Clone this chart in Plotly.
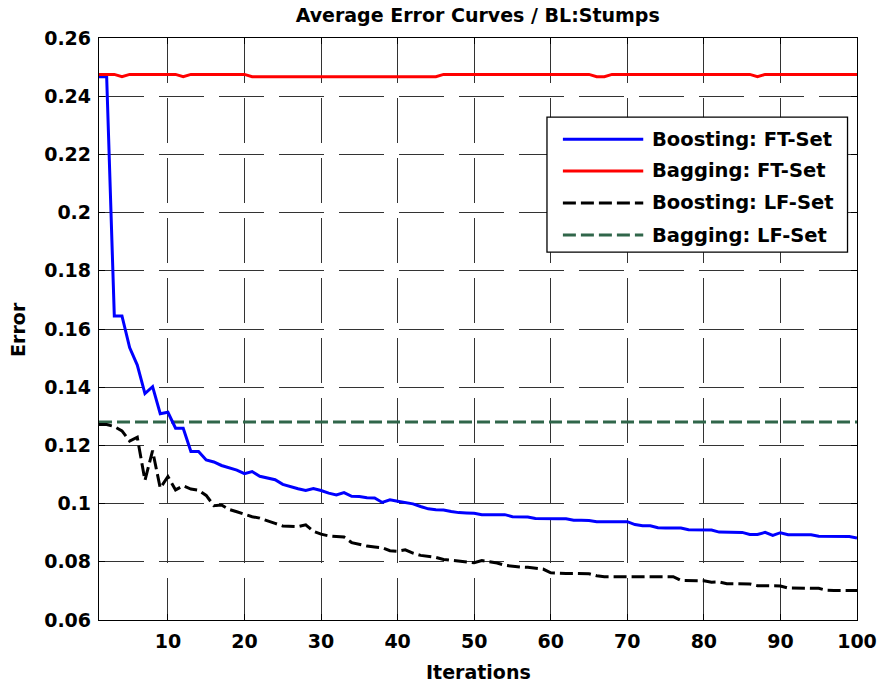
import plotly.graph_objects as go

# Iteration index and average error curves
iterations = list(range(1, 101))

boosting_ft = [
    0.2467, 0.2467, 0.1645, 0.1645, 0.1536, 0.1476, 0.1378, 0.1402, 0.1309, 0.1314,
    0.1259, 0.1259, 0.1179, 0.1179, 0.1150, 0.1143, 0.1131, 0.1122, 0.1115, 0.1103,
    0.1110, 0.1094, 0.1088, 0.1082, 0.1066, 0.1058, 0.1051, 0.1045, 0.1052, 0.1045,
    0.1036, 0.1030, 0.1038, 0.1025, 0.1024, 0.1020, 0.1019, 0.1004, 0.1013, 0.1008,
    0.1004, 0.0999, 0.0990, 0.0982, 0.0979, 0.0978, 0.0973, 0.0969, 0.0968, 0.0967,
    0.0962, 0.0962, 0.0962, 0.0962, 0.0955, 0.0955, 0.0954, 0.0949, 0.0948, 0.0948,
    0.0948, 0.0948, 0.0943, 0.0943, 0.0942, 0.0938, 0.0937, 0.0938, 0.0938, 0.0938,
    0.0928, 0.0924, 0.0924, 0.0917, 0.0916, 0.0916, 0.0916, 0.0910, 0.0910, 0.0910,
    0.0909, 0.0902, 0.0902, 0.0902, 0.0901, 0.0894, 0.0894, 0.0901, 0.0891, 0.0900,
    0.0893, 0.0893, 0.0893, 0.0893, 0.0888, 0.0888, 0.0888, 0.0888, 0.0887, 0.0882,
]

bagging_ft = [
    0.2475, 0.2475, 0.2475, 0.2467, 0.2475, 0.2475, 0.2475, 0.2475, 0.2475, 0.2475,
    0.2475, 0.2467, 0.2475, 0.2475, 0.2475, 0.2475, 0.2475, 0.2475, 0.2475, 0.2475,
    0.2467, 0.2467, 0.2467, 0.2467, 0.2467, 0.2467, 0.2467, 0.2467, 0.2467, 0.2467,
    0.2467, 0.2467, 0.2467, 0.2467, 0.2467, 0.2467, 0.2467, 0.2467, 0.2467, 0.2467,
    0.2467, 0.2467, 0.2467, 0.2467, 0.2467, 0.2475, 0.2475, 0.2475, 0.2475, 0.2475,
    0.2475, 0.2475, 0.2475, 0.2475, 0.2475, 0.2475, 0.2475, 0.2475, 0.2475, 0.2475,
    0.2475, 0.2475, 0.2475, 0.2475, 0.2475, 0.2467, 0.2467, 0.2475, 0.2475, 0.2475,
    0.2475, 0.2475, 0.2475, 0.2475, 0.2475, 0.2475, 0.2475, 0.2475, 0.2475, 0.2475,
    0.2475, 0.2475, 0.2475, 0.2475, 0.2475, 0.2475, 0.2467, 0.2475, 0.2475, 0.2475,
    0.2475, 0.2475, 0.2475, 0.2475, 0.2475, 0.2475, 0.2475, 0.2475, 0.2475, 0.2475,
]

boosting_lf = [
    0.1272, 0.1272, 0.1265, 0.1250, 0.1215, 0.1228, 0.1080, 0.1182, 0.1053, 0.1093,
    0.1047, 0.1061, 0.1050, 0.1046, 0.1028, 0.0993, 0.0995, 0.0980, 0.0972, 0.0964,
    0.0955, 0.0950, 0.0942, 0.0932, 0.0923, 0.0922, 0.0921, 0.0927, 0.0905, 0.0895,
    0.0889, 0.0887, 0.0885, 0.0866, 0.0860, 0.0854, 0.0851, 0.0848, 0.0838, 0.0836,
    0.0841, 0.0830, 0.0822, 0.0819, 0.0815, 0.0808, 0.0805, 0.0802, 0.0800, 0.0797,
    0.0804, 0.0799, 0.0796, 0.0788, 0.0784, 0.0782, 0.0781, 0.0778, 0.0775, 0.0762,
    0.0760, 0.0760, 0.0760, 0.0760, 0.0759, 0.0752, 0.0749, 0.0749, 0.0749, 0.0749,
    0.0749, 0.0749, 0.0749, 0.0749, 0.0749, 0.0749, 0.0736, 0.0735, 0.0735, 0.0735,
    0.0730, 0.0731, 0.0725, 0.0724, 0.0724, 0.0724, 0.0718, 0.0717, 0.0717, 0.0717,
    0.0710, 0.0709, 0.0709, 0.0709, 0.0709, 0.0702, 0.0701, 0.0701, 0.0701, 0.0701,
]

bagging_lf = [
    0.128, 0.128, 0.128, 0.128, 0.128, 0.128, 0.128, 0.128, 0.128, 0.128,
    0.128, 0.128, 0.128, 0.128, 0.128, 0.128, 0.128, 0.128, 0.128, 0.128,
    0.128, 0.128, 0.128, 0.128, 0.128, 0.128, 0.128, 0.128, 0.128, 0.128,
    0.128, 0.128, 0.128, 0.128, 0.128, 0.128, 0.128, 0.128, 0.128, 0.128,
    0.128, 0.128, 0.128, 0.128, 0.128, 0.128, 0.128, 0.128, 0.128, 0.128,
    0.128, 0.128, 0.128, 0.128, 0.128, 0.128, 0.128, 0.128, 0.128, 0.128,
    0.128, 0.128, 0.128, 0.128, 0.128, 0.128, 0.128, 0.128, 0.128, 0.128,
    0.128, 0.128, 0.128, 0.128, 0.128, 0.128, 0.128, 0.128, 0.128, 0.128,
    0.128, 0.128, 0.128, 0.128, 0.128, 0.128, 0.128, 0.128, 0.128, 0.128,
    0.128, 0.128, 0.128, 0.128, 0.128, 0.128, 0.128, 0.128, 0.128, 0.128,
]

series_names = ["Boosting: FT-Set", "Bagging: FT-Set", "Boosting: LF-Set", "Bagging: LF-Set"]
series_values = [boosting_ft, bagging_ft, boosting_lf, bagging_lf]
series_colors = ["#0000FF", "#FF0000", "#000000", "#30664A"]
series_dash = ["solid", "solid", "13px,5px", "13px,5px"]

x_ticks = [10, 20, 30, 40, 50, 60, 70, 80, 90, 100]
y_ticks = [0.06, 0.08, 0.10, 0.12, 0.14, 0.16, 0.18, 0.20, 0.22, 0.24, 0.26]
y_tick_text = ["0.06", "0.08", "0.1", "0.12", "0.14", "0.16", "0.18", "0.2", "0.22", "0.24", "0.26"]

FONT = "DejaVu Sans"
BOLD = dict(family=FONT, color="black", weight="bold")

fig = go.Figure()
# Draw order: dashed LF curves underneath, FT curves above
for idx in [3, 2, 0, 1]:
    fig.add_trace(go.Scatter(
        x=iterations, y=series_values[idx], mode="lines", name=series_names[idx],
        line=dict(color=series_colors[idx], width=3, dash=series_dash[idx]),
        showlegend=False,
    ))

axis_common = dict(
    showline=True, linecolor="black", linewidth=1.3, mirror="ticks",
    ticks="inside", ticklen=6, tickwidth=1, tickcolor="black",
    showgrid=True, gridcolor="#333333", gridwidth=1, griddash="45px,15px",
    zeroline=False,
    tickfont=dict(size=19, **BOLD),
)

fig.update_xaxes(range=[1, 100], tickvals=x_ticks, ticklabelstandoff=4, **axis_common)
fig.update_yaxes(range=[0.06, 0.26], tickvals=y_ticks, ticktext=y_tick_text,
                 ticklabelstandoff=3, **axis_common)

# Legend box with long line samples, placed in the upper-right of the axes
box_x0, box_x1, box_y0, box_y1 = 0.591, 0.9875, 0.632, 0.864
sample_x0, sample_x1, text_x = 0.612, 0.718, 0.727
entry_y = [0.826, 0.7715, 0.7165, 0.6615]

shapes = [dict(type="rect", xref="paper", yref="paper",
               x0=box_x0, x1=box_x1, y0=box_y0, y1=box_y1,
               line=dict(color="black", width=1.3), fillcolor="white", layer="above")]
annotations = []
for name, color, dash, ey in zip(series_names, series_colors, series_dash, entry_y):
    shapes.append(dict(type="line", xref="paper", yref="paper",
                       x0=sample_x0, x1=sample_x1, y0=ey, y1=ey,
                       line=dict(color=color, width=3, dash=dash), layer="above"))
    annotations.append(dict(xref="paper", yref="paper", x=text_x, y=ey,
                            xanchor="left", yanchor="middle", showarrow=False,
                            text=name, font=dict(size=19.5, **BOLD)))

# Axis titles
annotations.append(dict(xref="paper", yref="paper", x=0.5, y=-0.09,
                        xanchor="center", yanchor="middle", showarrow=False,
                        text="Iterations", font=dict(size=19, **BOLD)))
annotations.append(dict(xref="paper", yref="paper", x=-0.107, y=0.5,
                        xanchor="center", yanchor="middle", showarrow=False,
                        textangle=-90, text="Error", font=dict(size=19, **BOLD)))

fig.update_layout(
    width=883, height=688,
    margin=dict(l=99, r=26, t=38, b=68, autoexpand=False),
    paper_bgcolor="white", plot_bgcolor="white",
    title=dict(text="Average Error Curves / BL:Stumps", x=0.541, xanchor="center",
               y=0.978, yanchor="middle", font=dict(size=19, **BOLD)),
    shapes=shapes, annotations=annotations,
    showlegend=False,
)

fig.write_html("out.html")
